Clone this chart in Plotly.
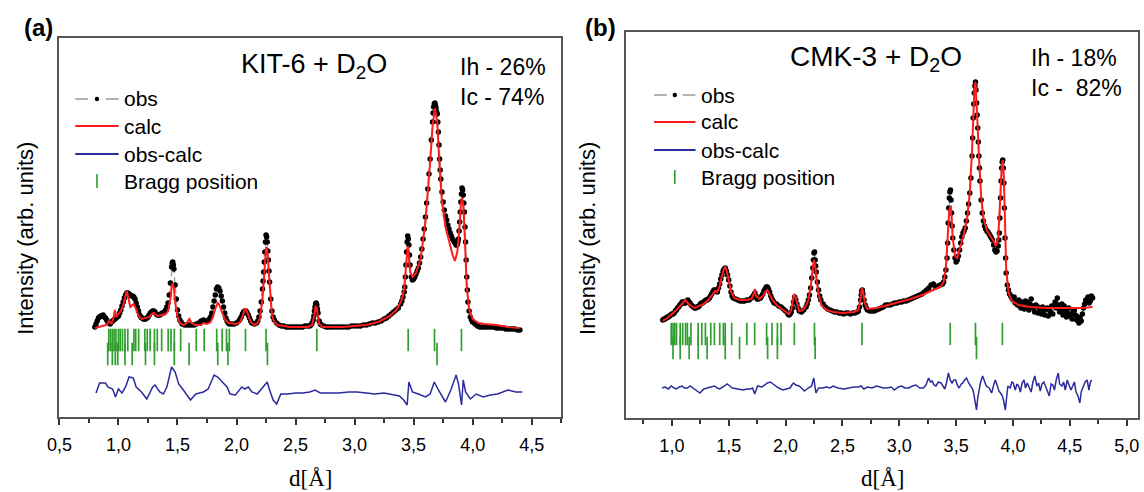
import plotly.graph_objects as go

SANS = "Arial, 'Liberation Sans', sans-serif"
SERIF = "'Times New Roman', 'Liberation Serif', serif"

# ---------------- KIT-6 + D2O ----------------
# observed profile: (d [Å], intensity)
A_OBS = [
    (0.80, 90), (0.81, 93), (0.82, 96), (0.83, 99), (0.84, 100), (0.85, 101), (0.86, 101),
    (0.87, 102), (0.88, 100), (0.89, 99), (0.90, 97), (0.91, 95), (0.92, 94), (0.93, 93),
    (0.94, 95), (0.95, 96), (0.96, 97), (0.97, 98), (0.98, 99), (0.99, 100), (1.00, 101),
    (1.01, 104), (1.02, 107), (1.03, 111), (1.04, 115), (1.05, 119), (1.06, 122), (1.07, 124),
    (1.08, 124), (1.09, 123), (1.10, 122), (1.11, 121), (1.12, 121), (1.13, 120), (1.14, 118),
    (1.15, 114), (1.16, 110), (1.17, 106), (1.18, 102), (1.19, 100), (1.20, 99), (1.21, 98),
    (1.22, 98), (1.23, 98), (1.24, 99), (1.25, 100), (1.26, 102), (1.27, 104), (1.28, 105),
    (1.29, 106), (1.30, 106), (1.31, 105), (1.32, 103), (1.33, 102), (1.34, 102), (1.35, 102),
    (1.36, 103), (1.37, 104), (1.38, 104), (1.39, 105), (1.40, 107), (1.41, 110), (1.42, 114),
    (1.43, 122), (1.44, 134), (1.45, 150), (1.455, 154), (1.46, 155), (1.465, 152), (1.47, 148),
    (1.48, 132), (1.49, 118), (1.50, 107), (1.51, 101), (1.52, 97), (1.53, 95), (1.54, 93),
    (1.56, 92), (1.58, 92), (1.60, 92), (1.62, 92), (1.64, 92), (1.66, 93), (1.68, 94),
    (1.70, 96), (1.72, 97), (1.74, 96), (1.76, 96), (1.77, 98), (1.78, 100), (1.79, 104),
    (1.80, 110), (1.81, 116), (1.82, 122), (1.83, 128), (1.84, 130), (1.85, 129), (1.86, 126),
    (1.87, 121), (1.88, 116), (1.89, 110), (1.90, 104), (1.91, 99), (1.92, 96), (1.93, 94),
    (1.94, 93), (1.96, 93), (1.98, 93), (2.00, 94), (2.02, 96), (2.03, 98), (2.04, 100),
    (2.05, 103), (2.06, 105), (2.07, 106), (2.08, 106), (2.09, 104), (2.10, 102), (2.11, 99),
    (2.12, 96), (2.13, 94), (2.15, 93), (2.17, 94), (2.18, 96), (2.19, 100), (2.20, 106),
    (2.21, 115), (2.22, 128), (2.225, 136), (2.23, 145), (2.235, 155), (2.24, 165), (2.245, 175),
    (2.25, 182), (2.255, 180), (2.26, 175), (2.265, 166), (2.27, 157), (2.275, 146), (2.28, 135),
    (2.29, 118), (2.30, 106), (2.31, 100), (2.32, 97), (2.34, 94), (2.36, 92), (2.38, 91),
    (2.40, 91), (2.42, 90), (2.44, 90), (2.46, 90), (2.48, 90), (2.50, 90), (2.52, 90),
    (2.54, 90), (2.56, 90), (2.58, 91), (2.60, 91), (2.62, 91), (2.63, 92), (2.64, 94),
    (2.65, 97), (2.655, 101), (2.66, 106), (2.665, 110), (2.67, 113), (2.675, 114), (2.68, 112),
    (2.685, 108), (2.69, 104), (2.70, 96), (2.71, 93), (2.72, 92), (2.74, 91), (2.76, 90),
    (2.78, 90), (2.80, 90), (2.825, 90), (2.85, 90), (2.875, 90), (2.90, 90), (2.925, 90),
    (2.95, 90), (2.975, 91), (3.00, 91), (3.025, 91), (3.05, 91), (3.075, 92), (3.10, 92),
    (3.125, 93), (3.15, 94), (3.175, 94), (3.20, 95), (3.225, 96), (3.25, 98), (3.27, 99),
    (3.29, 101), (3.31, 103), (3.33, 105), (3.35, 107), (3.37, 109), (3.39, 113), (3.40, 116),
    (3.41, 120), (3.42, 125), (3.425, 130), (3.43, 140), (3.435, 152), (3.44, 165), (3.445, 175),
    (3.45, 181), (3.455, 178), (3.46, 172), (3.465, 162), (3.47, 152), (3.48, 140), (3.49, 137),
    (3.50, 138), (3.51, 140), (3.52, 143), (3.53, 146), (3.54, 149), (3.55, 154), (3.56, 160),
    (3.57, 168), (3.58, 178), (3.59, 188), (3.60, 200), (3.61, 214), (3.62, 228), (3.63, 243),
    (3.64, 258), (3.65, 277), (3.66, 295), (3.665, 304), (3.67, 310), (3.675, 313), (3.68, 314),
    (3.685, 312), (3.69, 309), (3.695, 305), (3.70, 303), (3.705, 295), (3.71, 285), (3.715, 272),
    (3.72, 258), (3.725, 247), (3.73, 238), (3.74, 225), (3.75, 215), (3.76, 207), (3.77, 201),
    (3.78, 197), (3.79, 192), (3.80, 188), (3.81, 184), (3.82, 181), (3.83, 178), (3.84, 176),
    (3.85, 174), (3.86, 172), (3.865, 172), (3.87, 173), (3.875, 175), (3.88, 178), (3.885, 186),
    (3.89, 195), (3.895, 205), (3.90, 215), (3.905, 223), (3.91, 229), (3.915, 227), (3.92, 222),
    (3.925, 214), (3.93, 205), (3.935, 190), (3.94, 175), (3.945, 157), (3.95, 140), (3.955, 127),
    (3.96, 115), (3.97, 106), (3.98, 100), (3.99, 97), (4.00, 95), (4.02, 93), (4.04, 91),
    (4.06, 90), (4.08, 90), (4.10, 90), (4.12, 90), (4.14, 90), (4.16, 90), (4.18, 90),
    (4.20, 89), (4.22, 89), (4.24, 89), (4.26, 89), (4.28, 88), (4.30, 88), (4.32, 88),
    (4.34, 88), (4.36, 88), (4.38, 87), (4.40, 87),
]

A_CALC_D = [0.80, 0.84, 0.88, 0.90, 0.92, 0.94, 0.96, 0.97, 0.98, 1.00,
            1.02, 1.04, 1.06, 1.07, 1.08, 1.10, 1.12, 1.13, 1.15, 1.17,
            1.20, 1.23, 1.26, 1.28, 1.30, 1.33, 1.36, 1.40, 1.42, 1.44,
            1.45, 1.46, 1.47, 1.48, 1.50, 1.52, 1.55, 1.58, 1.60, 1.62,
            1.65, 1.70, 1.72, 1.75, 1.78, 1.80, 1.82, 1.84, 1.85, 1.87,
            1.90, 1.93, 1.97, 2.00, 2.03, 2.05, 2.07, 2.08, 2.10, 2.12,
            2.15, 2.18, 2.20, 2.22, 2.23, 2.24, 2.25, 2.26, 2.27, 2.28,
            2.29, 2.30, 2.32, 2.35, 2.45, 2.60, 2.64, 2.66, 2.67, 2.68,
            2.69, 2.70, 2.73, 2.90, 3.00, 3.10, 3.20, 3.30, 3.36, 3.40,
            3.42, 3.43, 3.44, 3.45, 3.46, 3.47, 3.49, 3.52, 3.56, 3.60,
            3.64, 3.66, 3.68, 3.70, 3.72, 3.74, 3.77, 3.80, 3.83, 3.85,
            3.87, 3.89, 3.90, 3.91, 3.92, 3.93, 3.94, 3.95, 3.97, 4.00,
            4.05, 4.10, 4.20, 4.30, 4.40]
A_CALC_I = [89, 90, 91, 92, 96, 93, 100, 107, 100, 103,
            106, 112, 120, 126, 121, 110, 112, 113, 108, 101,
            98, 99, 100, 103, 104, 101, 102, 103, 106, 118,
            130, 134, 128, 115, 100, 94, 92, 94, 98, 94,
            92, 92, 94, 93, 95, 100, 108, 114, 113, 107,
            98, 94, 93, 93, 95, 100, 108, 108, 102, 95,
            92, 94, 100, 118, 135, 155, 170, 167, 150, 130,
            113, 102, 95, 92, 90, 90, 92, 102, 111, 109,
            100, 93, 90, 90, 91, 92, 95, 101, 108, 117,
            128, 145, 162, 171, 160, 145, 140, 144, 158, 195,
            255, 290, 309, 295, 250, 215, 190, 176, 162, 156,
            165, 192, 212, 219, 212, 190, 160, 130, 108, 98,
            94, 93, 92, 90, 89]

A_DIFF_D = [0.81, 0.84, 0.89, 0.91, 0.95, 0.975, 1.00, 1.03, 1.06, 1.09,
            1.125, 1.15, 1.195, 1.24, 1.29, 1.31, 1.35, 1.38, 1.41, 1.45,
            1.48, 1.51, 1.55, 1.61, 1.655, 1.72, 1.76, 1.81, 1.84, 1.88,
            1.92, 1.945, 1.99, 2.045, 2.07, 2.10, 2.13, 2.175, 2.22, 2.26,
            2.28, 2.31, 2.34, 2.375, 2.435, 2.50, 2.56, 2.62, 2.665, 2.71,
            2.80, 2.865, 2.95, 3.02, 3.10, 3.17, 3.25, 3.32, 3.38, 3.415,
            3.445, 3.46, 3.49, 3.54, 3.60, 3.64, 3.675, 3.71, 3.77, 3.815,
            3.86, 3.88, 3.906, 3.92, 3.94, 3.98, 4.03, 4.09, 4.15, 4.21,
            4.26, 4.30, 4.365, 4.42]
A_DIFF_I = [-1, 9, 9, 5, 3, -5, 3, -1, 5, 15,
            14, 5, 0, -7, 5, 7, 0, -2, 5, 25,
            20, 8, 2, -8, -2, 0, 3, 17, 15, 10,
            5, -2, -3, 5, 3, 5, 0, -2, 5, 10,
            2, -8, -12, -2, -2, -1, -1, 0, 2, -1,
            -1, -1, 0, 0, -1, -2, -1, -3, -4, -8,
            -13, 10, 0, -2, -5, -2, 10, 2, -10, 2,
            17, 8, -13, 12, 0, -7, -2, -5, -3, -2,
            0, 2, 0, 0]

A_BRAGG_IH = [0.918, 0.933, 0.948, 0.963, 0.979, 1.000, 1.015, 1.034, 1.055, 1.079,
              1.131, 1.146, 1.171, 1.223, 1.244, 1.268, 1.305, 1.329, 1.366, 1.421,
              1.445, 1.473, 1.527, 1.659, 1.726, 1.832, 1.878, 1.915, 1.939, 2.076,
              2.250, 2.680, 3.454, 3.677, 3.905]
A_BRAGG_IC = [0.909, 0.948, 0.973, 0.994, 1.055, 1.116, 1.229, 1.305, 1.473, 1.598,
              1.841, 1.927, 2.262, 3.698]

A_TICKS = [0.5, 1.0, 1.5, 2.0, 2.5, 3.0, 3.5, 4.0, 4.5]
A_TICK_TEXT = ["0,5", "1,0", "1,5", "2,0", "2,5", "3,0", "3,5", "4,0", "4,5"]
A_MINOR = [0.75, 1.25, 1.75, 2.25, 2.75, 3.25, 3.75, 4.25, 4.75]

# ---------------- CMK-3 + D2O ----------------
B_OBS = [
    (0.92, 98), (0.93, 99), (0.94, 99), (0.95, 100), (0.96, 101), (0.97, 101), (0.98, 102),
    (0.99, 103), (1.00, 104), (1.01, 104), (1.02, 105), (1.03, 107), (1.04, 108), (1.05, 110),
    (1.06, 111), (1.07, 113), (1.08, 114), (1.09, 116), (1.10, 116), (1.11, 115), (1.12, 115),
    (1.13, 117), (1.14, 118), (1.15, 116), (1.16, 115), (1.17, 113), (1.18, 112), (1.19, 111),
    (1.20, 110), (1.21, 110), (1.22, 111), (1.23, 111), (1.24, 112), (1.25, 114), (1.26, 115),
    (1.27, 115), (1.28, 116), (1.29, 117), (1.30, 118), (1.31, 118), (1.32, 119), (1.33, 120),
    (1.34, 122), (1.35, 124), (1.36, 126), (1.37, 128), (1.38, 128), (1.39, 127), (1.40, 126),
    (1.41, 130), (1.42, 134), (1.43, 139), (1.44, 143), (1.45, 147), (1.46, 149), (1.47, 150),
    (1.48, 147), (1.49, 143), (1.50, 138), (1.51, 132), (1.52, 126), (1.53, 122), (1.54, 120),
    (1.56, 119), (1.58, 118), (1.60, 117), (1.62, 117), (1.64, 117), (1.66, 118), (1.68, 118),
    (1.70, 120), (1.71, 121), (1.72, 123), (1.73, 125), (1.74, 122), (1.75, 119), (1.76, 119),
    (1.78, 120), (1.79, 122), (1.80, 124), (1.81, 127), (1.82, 129), (1.83, 131), (1.84, 131),
    (1.85, 129), (1.86, 126), (1.87, 122), (1.88, 119), (1.89, 117), (1.90, 115), (1.92, 114),
    (1.94, 112), (1.96, 111), (1.98, 109), (2.00, 107), (2.02, 104), (2.03, 103), (2.04, 104),
    (2.05, 106), (2.06, 110), (2.07, 116), (2.08, 121), (2.09, 118), (2.10, 114), (2.11, 110),
    (2.12, 107), (2.14, 106), (2.16, 108), (2.18, 111), (2.19, 114), (2.20, 118), (2.21, 123),
    (2.22, 130), (2.23, 140), (2.24, 150), (2.245, 158), (2.25, 165), (2.255, 166), (2.26, 158),
    (2.265, 152), (2.27, 146), (2.28, 136), (2.29, 128), (2.30, 122), (2.31, 118), (2.33, 114),
    (2.35, 111), (2.37, 109), (2.39, 108), (2.41, 107), (2.43, 106), (2.45, 106), (2.47, 105),
    (2.49, 105), (2.51, 104), (2.53, 105), (2.55, 105), (2.57, 104), (2.59, 105), (2.61, 105),
    (2.63, 106), (2.64, 107), (2.65, 111), (2.66, 118), (2.665, 123), (2.67, 127), (2.675, 128),
    (2.68, 124), (2.69, 118), (2.70, 113), (2.71, 110), (2.72, 108), (2.74, 107), (2.76, 107),
    (2.78, 107), (2.80, 108), (2.82, 109), (2.84, 110), (2.86, 111), (2.88, 113), (2.90, 113),
    (2.92, 113), (2.94, 114), (2.96, 115), (2.98, 115), (3.00, 116), (3.02, 116), (3.04, 117),
    (3.06, 117), (3.08, 118), (3.10, 119), (3.12, 120), (3.14, 121), (3.16, 122), (3.18, 123),
    (3.20, 124), (3.22, 126), (3.24, 128), (3.26, 130), (3.28, 133), (3.30, 134), (3.32, 131),
    (3.34, 132), (3.36, 133), (3.38, 134), (3.39, 136), (3.40, 141), (3.41, 148), (3.42, 160),
    (3.425, 175), (3.43, 195), (3.435, 210), (3.44, 220), (3.445, 226), (3.45, 228), (3.455, 218),
    (3.46, 205), (3.465, 192), (3.47, 180), (3.48, 168), (3.49, 160), (3.50, 156), (3.51, 158),
    (3.52, 162), (3.53, 168), (3.54, 175), (3.55, 181), (3.56, 185), (3.57, 187), (3.58, 190),
    (3.59, 197), (3.60, 205), (3.61, 214), (3.62, 225), (3.63, 240), (3.64, 262), (3.645, 280),
    (3.65, 300), (3.655, 314), (3.66, 325), (3.665, 332), (3.67, 336), (3.675, 328), (3.68, 315),
    (3.685, 303), (3.69, 290), (3.695, 276), (3.70, 262), (3.705, 250), (3.71, 237), (3.72, 218),
    (3.73, 205), (3.74, 197), (3.75, 192), (3.76, 189), (3.77, 187), (3.78, 186), (3.79, 184),
    (3.80, 182), (3.81, 180), (3.82, 178), (3.83, 173), (3.84, 168), (3.85, 166), (3.86, 167),
    (3.87, 172), (3.875, 178), (3.88, 185), (3.885, 200), (3.89, 220), (3.895, 237), (3.90, 250),
    (3.905, 256), (3.91, 258), (3.915, 250), (3.92, 235), (3.925, 210), (3.93, 180), (3.935, 160),
    (3.94, 145), (3.95, 133), (3.96, 128), (3.97, 124), (3.98, 122), (3.99, 120), (4.00, 118),
    (4.01, 121), (4.02, 115), (4.03, 116), (4.04, 113), (4.05, 118), (4.06, 112), (4.07, 110),
    (4.08, 116), (4.09, 114), (4.10, 109), (4.11, 117), (4.12, 116), (4.13, 111), (4.14, 108),
    (4.15, 114), (4.16, 119), (4.17, 112), (4.18, 110), (4.19, 106), (4.20, 113), (4.21, 112),
    (4.22, 105), (4.23, 110), (4.24, 109), (4.25, 104), (4.26, 111), (4.27, 107), (4.28, 103),
    (4.29, 109), (4.30, 110), (4.31, 102), (4.32, 108), (4.33, 106), (4.34, 112), (4.35, 104),
    (4.36, 112), (4.37, 116), (4.38, 110), (4.39, 120), (4.40, 113), (4.41, 106), (4.42, 108),
    (4.43, 114), (4.44, 103), (4.45, 112), (4.46, 107), (4.47, 101), (4.48, 105), (4.49, 110),
    (4.50, 102), (4.51, 104), (4.52, 99), (4.53, 107), (4.54, 108), (4.55, 103), (4.56, 98),
    (4.57, 101), (4.58, 95), (4.59, 100), (4.60, 97), (4.61, 104), (4.62, 110), (4.63, 114),
    (4.64, 118), (4.65, 116), (4.66, 121), (4.67, 115), (4.68, 117), (4.69, 122), (4.70, 120),
]

B_CALC_D = [0.92, 0.96, 1.00, 1.04, 1.08, 1.10, 1.12, 1.14, 1.17, 1.20,
            1.24, 1.28, 1.32, 1.36, 1.38, 1.40, 1.42, 1.44, 1.46, 1.47,
            1.48, 1.50, 1.52, 1.55, 1.60, 1.65, 1.70, 1.72, 1.73, 1.74,
            1.77, 1.80, 1.82, 1.84, 1.86, 1.89, 1.93, 1.97, 2.00, 2.03,
            2.05, 2.07, 2.08, 2.10, 2.12, 2.15, 2.18, 2.20, 2.22, 2.24,
            2.25, 2.26, 2.27, 2.29, 2.32, 2.36, 2.42, 2.50, 2.60, 2.64,
            2.66, 2.67, 2.68, 2.70, 2.72, 2.80, 2.90, 3.00, 3.10, 3.20,
            3.30, 3.36, 3.39, 3.41, 3.43, 3.44, 3.45, 3.46, 3.47, 3.49,
            3.51, 3.54, 3.57, 3.60, 3.62, 3.64, 3.65, 3.66, 3.67, 3.68,
            3.69, 3.70, 3.72, 3.74, 3.77, 3.80, 3.83, 3.85, 3.87, 3.89,
            3.90, 3.91, 3.92, 3.93, 3.94, 3.96, 3.99, 4.05, 4.15, 4.30,
            4.45, 4.60, 4.70]
B_CALC_I = [97, 100, 104, 108, 113, 116, 118, 115, 112, 110,
            112, 114, 118, 124, 127, 126, 132, 142, 150, 151,
            148, 138, 126, 120, 118, 118, 119, 124, 129, 122,
            119, 122, 126, 128, 124, 117, 112, 109, 106, 104,
            108, 122, 124, 114, 107, 108, 112, 118, 130, 150,
            158, 152, 140, 124, 112, 108, 106, 105, 106, 108,
            120, 130, 127, 114, 109, 110, 113, 116, 119, 123,
            128, 131, 136, 150, 190, 208, 212, 200, 180, 162,
            160, 172, 185, 202, 225, 268, 305, 328, 336, 318,
            290, 262, 222, 200, 188, 182, 177, 172, 180, 225,
            250, 258, 240, 195, 150, 126, 117, 113, 111, 110,
            110, 110, 111]

B_DIFF = [
    (0.914, 0), (0.94, 1), (0.97, -1), (0.994, 2), (1.02, 0), (1.04, -1), (1.065, 1),
    (1.089, 2), (1.11, 0), (1.136, 0), (1.16, 2), (1.184, 0), (1.21, -2), (1.247, -5),
    (1.28, -1), (1.31, 0), (1.34, 1), (1.374, 2), (1.40, 0), (1.421, -1), (1.45, 1),
    (1.485, 4), (1.51, 2), (1.532, 0), (1.58, -1), (1.627, -2), (1.66, -1), (1.69, -1),
    (1.71, 0), (1.728, -6), (1.754, 2), (1.79, 1), (1.817, 3), (1.84, 5), (1.865, 6),
    (1.89, 4), (1.912, 2), (1.94, 0), (1.975, -2), (2.01, -1), (2.039, 0), (2.055, 3),
    (2.07, 5), (2.09, 3), (2.118, 2), (2.14, 0), (2.165, -3), (2.20, 0), (2.229, 2),
    (2.248, 10), (2.267, -5), (2.29, 0), (2.324, 0), (2.36, 1), (2.39, 0), (2.419, 2),
    (2.46, 0), (2.514, -1), (2.56, 0), (2.60, 1), (2.641, 1), (2.665, 2), (2.688, -1),
    (2.72, 1), (2.76, 0), (2.799, 2), (2.83, 1), (2.86, 0), (2.894, 0), (2.93, 1),
    (2.957, -2), (2.99, 1), (3.021, 2), (3.05, 0), (3.084, 0), (3.115, 2), (3.147, 3),
    (3.18, 0), (3.211, 0), (3.235, 3), (3.258, 10), (3.275, 6), (3.29, 7), (3.305, 3),
    (3.322, 2), (3.345, 6), (3.369, 5), (3.385, 2), (3.40, -1), (3.415, 5), (3.432, 15),
    (3.448, 8), (3.464, 5), (3.48, 8), (3.496, 8), (3.51, 3), (3.527, 0), (3.545, 4),
    (3.559, 5), (3.575, 8), (3.591, 10), (3.61, 5), (3.629, 2), (3.645, -1), (3.654, -5),
    (3.668, -14), (3.679, -22), (3.69, -10), (3.701, -2), (3.715, 6), (3.733, 12), (3.75, 6),
    (3.765, 2), (3.79, 0), (3.812, -5), (3.828, 2), (3.844, 8), (3.86, 3), (3.876, -3),
    (3.89, -5), (3.907, -8), (3.92, -14), (3.933, -22), (3.945, -8), (3.955, 2), (3.975, 0),
    (3.99, 6), (4.002, 5), (4.02, -2), (4.035, 4), (4.05, 2), (4.065, -4), (4.08, 5),
    (4.097, 8), (4.11, 0), (4.125, 5), (4.145, 0), (4.16, -4), (4.175, 6), (4.192, 12),
    (4.21, 2), (4.225, 5), (4.24, -3), (4.255, 4), (4.272, 6), (4.287, 2), (4.30, -2),
    (4.319, -8), (4.335, 4), (4.351, 3), (4.365, -2), (4.38, 8), (4.398, 15), (4.41, 4),
    (4.43, 2), (4.445, 6), (4.46, -2), (4.477, 8), (4.49, 4), (4.51, -2), (4.525, 2),
    (4.54, 6), (4.555, -4), (4.572, -8), (4.588, -15), (4.60, -4), (4.62, 2), (4.635, 6),
    (4.652, 8), (4.668, -2), (4.68, 6), (4.693, 8),
]

B_BRAGG_IH = [0.994, 1.010, 1.025, 1.041, 1.073, 1.095, 1.120, 1.136, 1.168, 1.231,
              1.263, 1.295, 1.342, 1.374, 1.421, 1.453, 1.469, 1.526, 1.659, 1.728,
              1.833, 1.880, 1.928, 1.960, 2.077, 2.254, 2.672, 3.448, 3.670, 3.907]
B_BRAGG_IC = [1.010, 1.073, 1.152, 1.231, 1.310, 1.469, 1.595, 1.842, 1.928, 2.260,
              3.679]

B_TICKS = [1.0, 1.5, 2.0, 2.5, 3.0, 3.5, 4.0, 4.5, 5.0]
B_TICK_TEXT = ["1,0", "1,5", "2,0", "2,5", "3,0", "3,5", "4,0", "4,5", "5,0"]
B_MINOR = [0.75, 1.25, 1.75, 2.25, 2.75, 3.25, 3.75, 4.25, 4.75]

LEGEND_LABELS = ["obs", "calc", "obs-calc", "Bragg position"]

RED = "#ff1c1c"
BLUE = "#2b2b9d"
GREEN = "#2f9e2f"
OBS_LINE = "#9a9a9a"
FRAME = "#555555"

W, H = 1144, 492


def px_x(p):
    return p / W


def px_y(p):
    return 1 - p / H


fig = go.Figure()


def add_panel(xa, ya, obs, calc_d, calc_i, diff_d, diff_i, diff_base, ih, ic, row_ih, row_ic):
    obs_d, obs_i = zip(*obs)
    fig.add_trace(go.Scatter(
        x=obs_d, y=obs_i, mode="lines+markers", name="obs",
        line=dict(color=OBS_LINE, width=1.2, dash="6px,4px"),
        marker=dict(color="black", size=5.5),
        xaxis=xa, yaxis=ya))
    fig.add_trace(go.Scatter(
        x=calc_d, y=calc_i, mode="lines", name="calc",
        line=dict(color=RED, width=2), xaxis=xa, yaxis=ya))
    fig.add_trace(go.Scatter(
        x=diff_d, y=[v + diff_base for v in diff_i], mode="lines", name="obs-calc",
        line=dict(color=BLUE, width=1.5), xaxis=xa, yaxis=ya))
    fig.add_trace(go.Scatter(
        x=ih + ic, y=[row_ih] * len(ih) + [row_ic] * len(ic),
        mode="markers", name="Bragg position",
        marker=dict(symbol="line-ns", size=16, color=GREEN,
                    line=dict(color=GREEN, width=1.7)),
        xaxis=xa, yaxis=ya))


b_diff_d, b_diff_i = zip(*B_DIFF)
add_panel("x", "y", A_OBS, A_CALC_D, A_CALC_I, A_DIFF_D, A_DIFF_I, 25,
          A_BRAGG_IH, A_BRAGG_IC, 77, 63)
add_panel("x2", "y2", B_OBS, B_CALC_D, B_CALC_I, list(b_diff_d), list(b_diff_i), 30,
          B_BRAGG_IH, B_BRAGG_IC, 84, 70)


def xaxis_style(domain, rng, ticks, texts, minor):
    return dict(
        domain=domain, range=rng, tickmode="array", tickvals=ticks, ticktext=texts,
        ticks="outside", ticklen=6, tickwidth=1.5, tickcolor="#333",
        ticklabelstandoff=4,
        tickfont=dict(family=SANS, size=18, color="black"),
        minor=dict(tickmode="array", tickvals=minor, ticks="outside", ticklen=4,
                   tickwidth=1.5, tickcolor="#333", showgrid=False),
        showline=True, linecolor=FRAME, linewidth=2, mirror=True,
        showgrid=False, zeroline=False)


def yaxis_style(domain, rng):
    return dict(domain=domain, range=rng, showticklabels=False, ticks="",
                showline=True, linecolor=FRAME, linewidth=2, mirror=True,
                showgrid=False, zeroline=False)


fig.update_layout(
    width=W, height=H, margin=dict(l=0, r=0, t=0, b=0),
    paper_bgcolor="white", plot_bgcolor="white", showlegend=False,
    xaxis=dict(anchor="y", **xaxis_style([px_x(47), px_x(555)], [0.5, 4.75],
                                         A_TICKS, A_TICK_TEXT, A_MINOR)),
    yaxis=dict(anchor="x", **yaxis_style([px_y(417), px_y(38)], [0, 379])),
    xaxis2=dict(anchor="y2", **xaxis_style([px_x(621), px_x(1139)], [0.6, 5.1],
                                           B_TICKS, B_TICK_TEXT, B_MINOR)),
    yaxis2=dict(anchor="x2", **yaxis_style([px_y(418), px_y(32)], [0, 386])),
)


# legend key drawn for each panel: symbol column (x0..x1), text column, row positions
def draw_key(x0, x1, text_x, rows):
    xc = (x0 + x1) / 2
    y_obs, y_calc, y_diff, y_bragg = rows

    def seg(xa, ya, xb, yb, color, width):
        fig.add_shape(type="line", xref="paper", yref="paper",
                      x0=px_x(xa), y0=px_y(ya), x1=px_x(xb), y1=px_y(yb),
                      line=dict(color=color, width=width))

    seg(x0, y_obs, x0 + 13, y_obs, OBS_LINE, 1.5)
    seg(x1 - 13, y_obs, x1, y_obs, OBS_LINE, 1.5)
    fig.add_shape(type="circle", xref="paper", yref="paper",
                  x0=px_x(xc - 2.2), x1=px_x(xc + 2.2), y0=px_y(y_obs + 2.2), y1=px_y(y_obs - 2.2),
                  fillcolor="black", line=dict(color="black", width=0))
    seg(x0, y_calc, x1, y_calc, RED, 2)
    seg(x0, y_diff, x1, y_diff, BLUE, 2)
    seg(xc, y_bragg - 7, xc, y_bragg + 7, GREEN, 1.6)
    for label, y in zip(LEGEND_LABELS, rows):
        fig.add_annotation(text=label, x=px_x(text_x), y=px_y(y), xref="paper", yref="paper",
                           xanchor="left", yanchor="middle", showarrow=False,
                           font=dict(family=SANS, size=21, color="black"))


draw_key(63, 107, 110, [99, 126, 154, 181])
draw_key(649, 691, 695, [95, 122, 150, 177])

notes = [
    ("<b>(a)</b>", 26, 27, 24, SANS, "center", 0),
    ("<b>(b)</b>", 595, 28, 24, SANS, "center", 0),
    ("KIT-6 + D<sub>2</sub>O", 305, 66, 27, SANS, "center", 0),
    ("CMK-3 + D<sub>2</sub>O", 874, 58, 28, SANS, "center", 0),
    ("Ih - 26%", 451, 67, 23, SANS, "left", 0),
    ("Ic - 74%", 451, 97, 23, SANS, "left", 0),
    ("Ih - 18%", 1029, 58, 23, SANS, "left", 0),
    ("Ic - \u00a082%", 1029, 88, 23, SANS, "left", 0),
    ("Intensity (arb. units)", 12, 238, 22, SANS, "center", -90),
    ("Intensity (arb. units)", 581, 238, 22, SANS, "center", -90),
    ("d[Å]", 301, 478, 23, SERIF, "center", 0),
    ("d[Å]", 880, 478, 23, SERIF, "center", 0),
]
for text, x, y, size, fam, anchor, angle in notes:
    fig.add_annotation(text=text, x=px_x(x), y=px_y(y), xref="paper", yref="paper",
                       xanchor=anchor, yanchor="middle", showarrow=False,
                       textangle=angle, font=dict(family=fam, size=size, color="black"))

fig.write_html("out.html")
